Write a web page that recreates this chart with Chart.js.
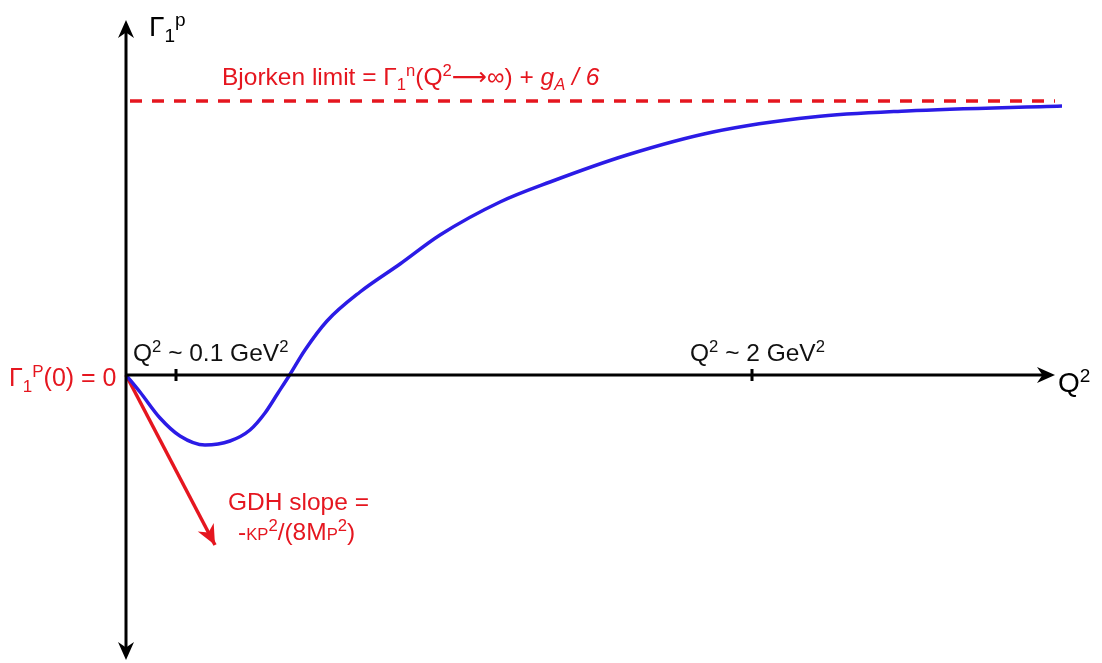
<!DOCTYPE html>
<html>
  <head>
    <meta charset="utf-8">
    <script src="https://cdn.jsdelivr.net/npm/chart.js@4.4.1/dist/chart.umd.min.js"></script>
    <style>
      body { margin: 0; background: #fff; }
      #wrap { width: 1102px; height: 663px; }
    </style>
  </head>
  <body>
    <div id="wrap"><canvas id="gammaChart" width="1102" height="663"></canvas></div>
    <script>
      // Q^2 (arbitrary units) and Gamma_1^p along the sketched curve
      const qVals = [0, 0.14, 0.34, 0.54, 0.79, 1.04, 1.24, 1.39, 1.52, 1.63, 1.79, 2.01, 2.34, 2.74, 3.14, 3.74, 4.24, 5.01, 5.87, 6.87, 7.81, 9.36];
      const gammaVals = [0, -0.17, -0.43, -0.61, -0.70, -0.66, -0.55, -0.38, -0.18, -0.01, 0.25, 0.54, 0.83, 1.11, 1.40, 1.73, 1.93, 2.20, 2.43, 2.58, 2.64, 2.69];

      // Bjorken sum rule asymptote
      const bjorkenLimit = 2.74;
      const bjorkenQ = [0.04, 9.29];

      // GDH slope at the origin
      const gdhQ = [0, 0.89];
      const gdhGamma = [0, -1.70];

      // marked Q^2 values on the axis
      const tickQ = [0.5, 6.26];

      const RED = '#e5161f';
      const BLUE = '#2b1be6';
      const FONT = '"Liberation Sans", Arial, sans-serif';

      function arrowHead(ctx, x, y, angle, len, half, color) {
        ctx.save();
        ctx.translate(x, y);
        ctx.rotate(angle);
        ctx.fillStyle = color;
        ctx.beginPath();
        ctx.moveTo(0, 0);
        ctx.lineTo(-len, -half);
        ctx.lineTo(-len * 0.7, 0);
        ctx.lineTo(-len, half);
        ctx.closePath();
        ctx.fill();
        ctx.restore();
      }

      // text runs with sub/superscripts: {t, sub, sup, small, italic}
      function richText(ctx, x, y, runs, size, color) {
        ctx.save();
        ctx.fillStyle = color;
        ctx.textBaseline = 'alphabetic';
        ctx.textAlign = 'left';
        let cx = x;
        runs.forEach(r => {
          let s = size, dy = 0;
          if (r.sub) { s = size * 0.68; dy = size * 0.22; }
          if (r.sup) { s = size * 0.68; dy = -size * 0.36; }
          if (r.small) { s = size * 0.68; dy = 0; }
          ctx.font = (r.italic ? 'italic ' : '') + s + 'px ' + (r.font || FONT);
          ctx.fillText(r.t, cx, y + dy);
          cx += ctx.measureText(r.t).width;
        });
        ctx.restore();
      }

      const sketchPlugin = {
        id: 'sketch',
        afterDatasetsDraw(chart) {
          const ctx = chart.ctx;
          const xs = chart.scales.x, ys = chart.scales.y;
          const px = v => xs.getPixelForValue(v);
          const py = v => ys.getPixelForValue(v);

          const x0 = px(0), y0 = py(0);
          const yTop = py(3.55), yBot = py(-2.85), xEnd = px(9.29);

          ctx.save();
          ctx.strokeStyle = '#000';
          ctx.lineWidth = 3;
          ctx.beginPath();
          ctx.moveTo(x0, yTop + 10);
          ctx.lineTo(x0, yBot - 10);
          ctx.moveTo(x0, y0);
          ctx.lineTo(xEnd - 10, y0);
          tickQ.forEach(q => {
            ctx.moveTo(px(q), y0 - 6);
            ctx.lineTo(px(q), y0 + 6);
          });
          ctx.stroke();
          arrowHead(ctx, x0, yTop, -Math.PI / 2, 18, 8, '#000');
          arrowHead(ctx, x0, yBot, Math.PI / 2, 18, 8, '#000');
          arrowHead(ctx, xEnd, y0, 0, 18, 8, '#000');

          // arrowhead on the GDH slope
          const gx = px(gdhQ[1]), gy = py(gdhGamma[1]);
          const ang = Math.atan2(gy - py(gdhGamma[0]), gx - px(gdhQ[0]));
          arrowHead(ctx, gx, gy, ang, 20, 9, RED);
          ctx.restore();

          // labels
          richText(ctx, 149, 36, [{t: 'Γ'}, {t: '1', sub: true}, {t: 'p', sup: true}], 28, '#000');
          richText(ctx, 1058, 392, [{t: 'Q'}, {t: '2', sup: true}], 28, '#000');
          richText(ctx, 222, 85, [
            {t: 'Bjorken limit = Γ'}, {t: '1', sub: true}, {t: 'n', sup: true},
            {t: '(Q'}, {t: '2', sup: true}, {t: '\u27f6', font: '"DejaVu Sans", sans-serif'}, {t: '\u221e) + '},
            {t: 'g', italic: true}, {t: 'A', sub: true, italic: true}, {t: ' / ', italic: true}, {t: '6', italic: true}
          ], 24.5, RED);
          richText(ctx, 133, 361, [{t: 'Q'}, {t: '2', sup: true}, {t: ' ~ 0.1 GeV'}, {t: '2', sup: true}], 24.5, '#111');
          richText(ctx, 690, 361, [{t: 'Q'}, {t: '2', sup: true}, {t: ' ~ 2 GeV'}, {t: '2', sup: true}], 24.5, '#111');
          richText(ctx, 9, 386, [{t: 'Γ'}, {t: '1', sub: true}, {t: 'P', sup: true}, {t: '(0) = 0'}], 25, RED);
          richText(ctx, 228, 510, [{t: 'GDH slope ='}], 24.5, RED);
          richText(ctx, 238, 540, [
            {t: '-'}, {t: 'K', small: true}, {t: 'P', small: true}, {t: '2', sup: true},
            {t: '/(8M'}, {t: 'P', small: true}, {t: '2', sup: true}, {t: ')'}
          ], 24.5, RED);
        }
      };

      const ctx = document.getElementById('gammaChart');
      new Chart(ctx, {
        type: 'line',
        data: {
          datasets: [
            {
              data: qVals.map((q, i) => ({x: q, y: gammaVals[i]})),
              borderColor: BLUE,
              borderWidth: 3.5,
              pointRadius: 0,
              cubicInterpolationMode: 'monotone'
            },
            {
              data: bjorkenQ.map(q => ({x: q, y: bjorkenLimit})),
              borderColor: RED,
              borderWidth: 3.5,
              borderDash: [12, 10],
              pointRadius: 0
            },
            {
              data: gdhQ.map((q, i) => ({x: q, y: gdhGamma[i]})),
              borderColor: RED,
              borderWidth: 3.5,
              pointRadius: 0
            }
          ]
        },
        options: {
          responsive: false,
          animation: false,
          layout: { padding: 0 },
          plugins: { legend: { display: false }, tooltip: { enabled: false } },
          scales: {
            x: { type: 'linear', min: -1.26, max: 9.76, display: false },
            y: { type: 'linear', min: -2.88, max: 3.75, display: false }
          }
        },
        plugins: [sketchPlugin]
      });
    </script>
  </body>
</html>
